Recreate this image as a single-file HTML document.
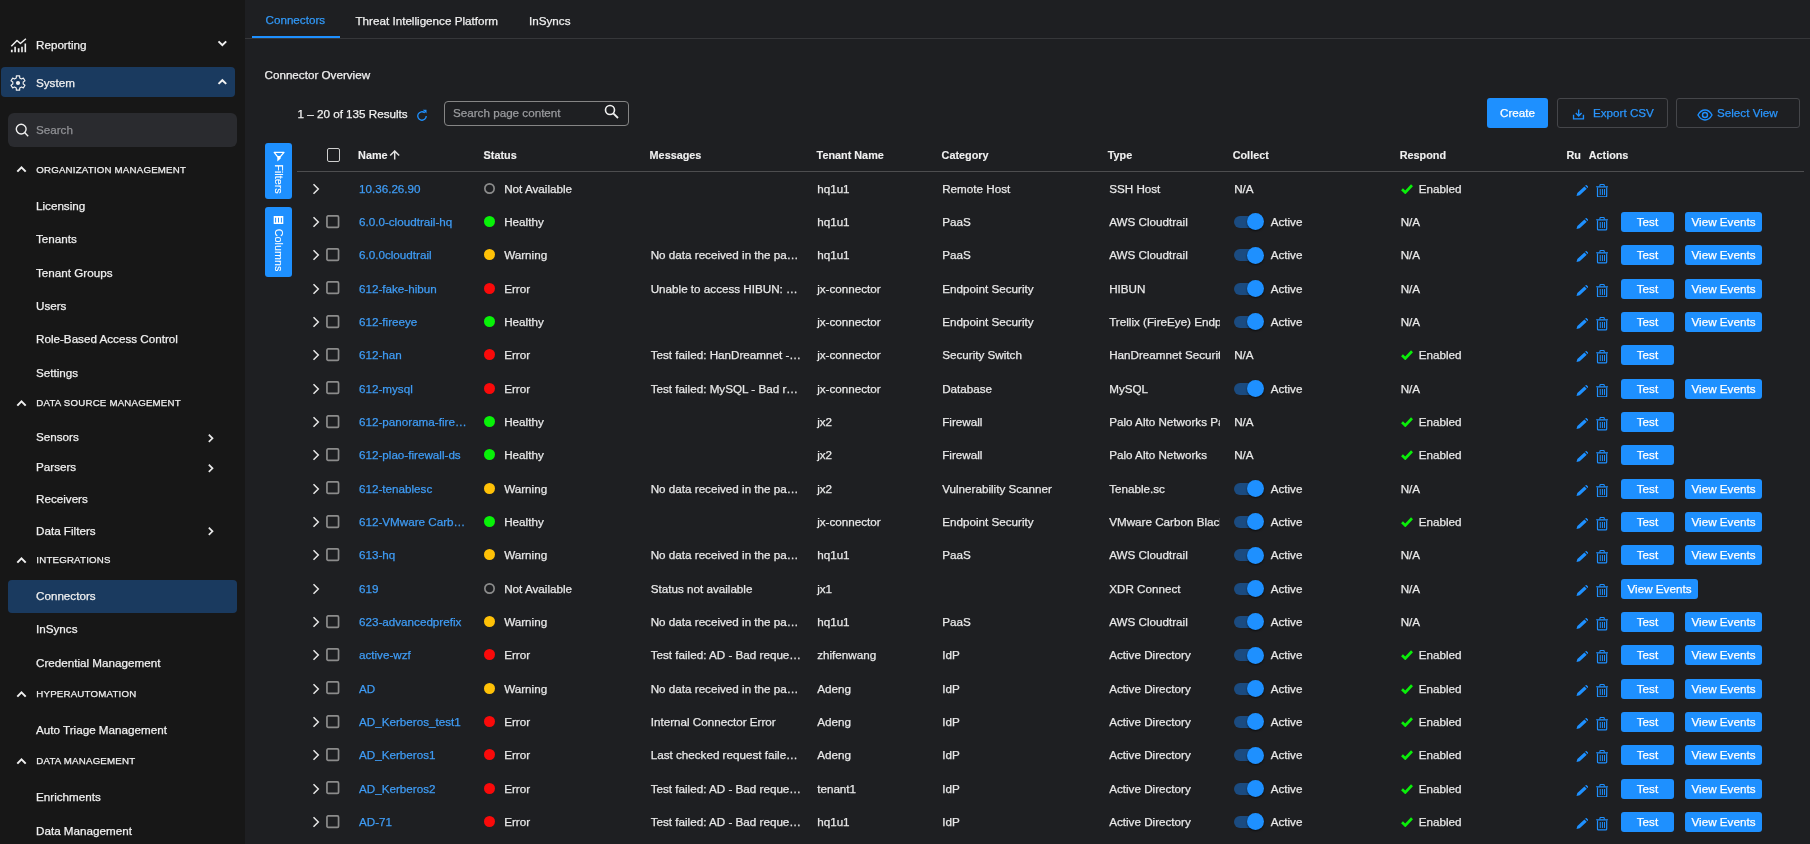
<!DOCTYPE html>
<html>
<head>
<meta charset="utf-8">
<title>Connectors</title>
<style>
*{box-sizing:border-box;margin:0;padding:0}
html,body{width:1810px;height:844px;overflow:hidden;background:#1e1f22;font-family:"Liberation Sans",sans-serif;font-size:11.67px;color:#e8e8e8;-webkit-text-stroke:0.25px}
.abs{position:absolute}
/* ---------- sidebar ---------- */
#side{will-change:transform;position:absolute;left:0;top:0;width:245px;height:844px;background:#171717;overflow:hidden}
.nav{position:absolute;left:36px;font-size:11.67px;line-height:14px;color:#f0f0f0;white-space:nowrap}
.sec{position:absolute;left:36.300px;font-size:9.700px;line-height:12px;color:#f0f0f0;letter-spacing:.2px;white-space:nowrap}
.hl{position:absolute;background:#1a3a5f;border-radius:4px}
.sv{position:absolute}
#sbox{position:absolute;left:8px;top:113px;width:229px;height:34px;border-radius:6px;background:#2a2b2f}
/* ---------- main ---------- */
#main{will-change:transform;position:absolute;left:245px;top:0;width:1565px;height:844px;background:#1e1f22}
.tab{position:absolute;top:13.500px;font-size:11.67px;line-height:14px;color:#f0f0f0;white-space:nowrap}
#tabline{position:absolute;left:0;top:38px;width:1565px;height:1px;background:#36373a}
#tabul{position:absolute;left:7px;top:36px;width:88px;height:2px;background:#1e90ff}
.vbtn{position:absolute;left:20px;width:27px;background:#1e90ff;border-radius:3px}
.vbtn span{-webkit-text-stroke:0.1px;position:absolute;left:50%;top:50%;color:#fff;font-size:10.83px;line-height:14px;white-space:nowrap;transform:translate(-50%,-50%) rotate(90deg)}
.hd{margin-left:.1px;-webkit-text-stroke:0.12px;position:absolute;top:148px;font-size:10.83px;line-height:14px;font-weight:bold;color:#f0f0f0;white-space:nowrap}
#hline{position:absolute;left:52px;top:171px;width:1507px;height:1px;background:#4d4d4f}
.tb{position:absolute;top:98px;height:30px;border-radius:3px;font-size:11.67px;line-height:28px;white-space:nowrap}
/* ---------- rows ---------- */
.row{position:absolute;left:0;width:1565px;height:33.33px}
.row .c{margin-left:.2px;position:absolute;top:10px;font-size:11.67px;line-height:14px;white-space:nowrap;color:#e8e8e8}
.chev{position:absolute;left:67px;top:11px;width:8px;height:12px}
.cb{position:absolute;left:81px;top:9.600px;width:15px;height:15px}
.name{left:113.800px;color:#3f9cf5 !important}
.dot{position:absolute;left:239px;top:11px;width:11px;height:11px;border-radius:50%}
.dot.ok{background:#08f208}.dot.warn{background:#ffc107}.dot.err{background:#fa0a0a}
.dot.na{background:none}
.st{left:259px}
.msg{left:405.500px}
.ten{left:572px}
.cat{left:697px}
.typ{left:864px;width:111px;overflow:hidden}
.col{left:989px}
.rsp{left:1155.500px}
.en{left:1173.500px}
.act{left:1025.500px}
.chk{position:absolute;left:1156px;top:12px;width:12px;height:10px}
.tg{position:absolute;left:989px;top:11px;width:28px;height:12px;border-radius:6px;background:#1b4b80}
.tg i{position:absolute;left:13px;top:-2.500px;width:17px;height:17px;border-radius:50%;background:#1e90ff;box-shadow:0 1px 2px rgba(0,0,0,.6)}
.ic{position:absolute}
.pen{left:1330.900px;top:13.100px;width:12.300px;height:11.500px}
.tr{left:1351.100px;top:12.200px;width:12.200px;height:13.500px}
.btn{position:absolute;top:7px;height:20px;border-radius:3px;background:#1e90ff;color:#fff;font-size:11.67px;line-height:20px;text-align:center;white-space:nowrap}
.b1{left:1376px;width:53px}
.b2{left:1440px;width:77px}
.b3{left:1376px;width:77px}
</style>
</head>
<body>
<div id="side">
  <!-- Reporting -->
  <svg class="sv" style="left:0;top:30px;width:36px;height:30px" viewBox="0 30 36 30"><path d="M11.300 46.300L17 40.500 20.400 43.500 25.900 38.700" fill="none" stroke="#f0f0f0" stroke-width="1.500" stroke-linejoin="round"/><path d="M10.900 49.800h1.800v2.400h-1.800zM14.300 46.800h1.600v5.400h-1.600zM17.800 48.300h1.700v3.900h-1.700zM21.200 46.800h1.600v5.400h-1.600zM24.500 43.400h1.600v8.800h-1.600z" fill="#f0f0f0"/></svg>
  <div class="nav" style="top:37.6px">Reporting</div>
  <svg class="sv" style="left:216px;top:39px;width:12px;height:9px" viewBox="0 0 12 9"><path d="M2.500 2.400L6.350 6.200 10.200 2.400" fill="none" stroke="#f0f0f0" stroke-width="2"/></svg>
  <!-- System -->
  <div class="hl" style="left:1px;top:67px;width:234px;height:30px"></div>
  <svg class="sv" style="left:8.100px;top:72.900px;width:20px;height:20px" viewBox="-10 -10 20 20"><path d="M1.730 -5.010 L1.640 -7.110 L-1.640 -7.110 L-1.730 -5.010 L-3.480 -4.000 L-5.340 -4.980 L-6.980 -2.130 L-5.200 -1.010 L-5.200 1.010 L-6.980 2.130 L-5.340 4.980 L-3.480 4.000 L-1.730 5.010 L-1.640 7.110 L1.640 7.110 L1.730 5.010 L3.480 4.000 L5.340 4.980 L6.980 2.130 L5.200 1.010 L5.200 -1.010 L6.980 -2.130 L5.340 -4.980 L3.480 -4.000Z" fill="none" stroke="#f0f0f0" stroke-width="1.150" stroke-linejoin="round"/><circle cx="0" cy="0" r="2.100" fill="#f0f0f0"/></svg>
  <div class="nav" style="top:75.6px">System</div>
  <svg class="sv" style="left:216px;top:77px;width:12px;height:9px" viewBox="0 0 12 9"><path d="M2.500 6.900L6.350 3.200 10.200 6.900" fill="none" stroke="#f0f0f0" stroke-width="2"/></svg>
  <!-- search -->
  <div id="sbox"></div>
  <svg class="sv" style="left:15px;top:122.500px;width:14px;height:14px" viewBox="0 0 14 14"><circle cx="6.200" cy="6.100" r="4.900" fill="none" stroke="#f0f0f0" stroke-width="1.400"/><path d="M9.600 9.600L13.200 13.200" stroke="#f0f0f0" stroke-width="1.400"/></svg>
  <div class="nav" style="top:122.800px;color:#8f9094">Search</div>

  <!-- sections -->
  <svg class="sv" style="left:16px;top:165px;width:11px;height:8px" viewBox="0 0 11 8"><path d="M1.300 6.600L5.500 2.400 9.700 6.600" fill="none" stroke="#f0f0f0" stroke-width="2"/></svg>
  <div class="sec" style="top:163.500px">ORGANIZATION MANAGEMENT</div>
  <div class="nav" style="top:198px;transform:translateY(.6px)">Licensing</div>
  <div class="nav" style="top:231px;transform:translateY(.6px)">Tenants</div>
  <div class="nav" style="top:265px;transform:translateY(.6px)">Tenant Groups</div>
  <div class="nav" style="top:298px;transform:translateY(.6px)">Users</div>
  <div class="nav" style="top:331px;transform:translateY(.6px)">Role-Based Access Control</div>
  <div class="nav" style="top:365px;transform:translateY(.6px)">Settings</div>

  <svg class="sv" style="left:16px;top:399px;width:11px;height:8px" viewBox="0 0 11 8"><path d="M1.300 6.600L5.500 2.400 9.700 6.600" fill="none" stroke="#f0f0f0" stroke-width="2"/></svg>
  <div class="sec" style="top:397px">DATA SOURCE MANAGEMENT</div>
  <div class="nav" style="top:430px">Sensors</div>
  <svg class="sv" style="left:207px;top:432.500px;width:7px;height:11px" viewBox="0 0 7 11"><path d="M1.800 1.700L5.500 5.300 1.800 8.900" fill="none" stroke="#e8e8e8" stroke-width="1.700"/></svg>
  <div class="nav" style="top:460px">Parsers</div>
  <svg class="sv" style="left:207px;top:462.500px;width:7px;height:11px" viewBox="0 0 7 11"><path d="M1.800 1.700L5.500 5.300 1.800 8.900" fill="none" stroke="#e8e8e8" stroke-width="1.700"/></svg>
  <div class="nav" style="top:492px">Receivers</div>
  <div class="nav" style="top:524px">Data Filters</div>
  <svg class="sv" style="left:207px;top:525.500px;width:7px;height:11px" viewBox="0 0 7 11"><path d="M1.800 1.700L5.500 5.300 1.800 8.900" fill="none" stroke="#e8e8e8" stroke-width="1.700"/></svg>

  <svg class="sv" style="left:16px;top:556px;width:11px;height:8px" viewBox="0 0 11 8"><path d="M1.300 6.600L5.500 2.400 9.700 6.600" fill="none" stroke="#f0f0f0" stroke-width="2"/></svg>
  <div class="sec" style="top:554px">INTEGRATIONS</div>
  <div class="hl" style="left:8px;top:580px;width:229px;height:33px"></div>
  <div class="nav" style="top:589px">Connectors</div>
  <div class="nav" style="top:622px">InSyncs</div>
  <div class="nav" style="top:656px">Credential Management</div>

  <svg class="sv" style="left:16px;top:690px;width:11px;height:8px" viewBox="0 0 11 8"><path d="M1.300 6.600L5.500 2.400 9.700 6.600" fill="none" stroke="#f0f0f0" stroke-width="2"/></svg>
  <div class="sec" style="top:688px">HYPERAUTOMATION</div>
  <div class="nav" style="top:723px">Auto Triage Management</div>

  <svg class="sv" style="left:16px;top:757px;width:11px;height:8px" viewBox="0 0 11 8"><path d="M1.300 6.600L5.500 2.400 9.700 6.600" fill="none" stroke="#f0f0f0" stroke-width="2"/></svg>
  <div class="sec" style="top:755px">DATA MANAGEMENT</div>
  <div class="nav" style="top:790px">Enrichments</div>
  <div class="nav" style="top:824px">Data Management</div>
</div>

<div id="main">
  <!-- tabs -->
  <div class="tab" style="left:20.500px;color:#3198f7;top:12.500px">Connectors</div>
  <div class="tab" style="left:110.500px">Threat Intelligence Platform</div>
  <div class="tab" style="left:284px">InSyncs</div>
  <div id="tabline"></div>
  <div id="tabul"></div>

  <div class="abs" style="left:19.500px;top:67.500px;font-size:11.67px;line-height:14px;color:#f0f0f0">Connector Overview</div>

  <div class="abs" style="left:52.500px;top:107px;font-size:11.67px;line-height:14px;color:#f0f0f0;white-space:nowrap">1 – 20 of 135 Results</div>
  <svg class="abs" style="left:171px;top:109px;width:12px;height:13px" viewBox="0 0 24 26"><path d="M20.500 14a8.500 8.500 0 1 1-3-6.500" fill="none" stroke="#1e90ff" stroke-width="2.600"/><path d="M13.500 1.500l7.500 0 0 7.500z" fill="#1e90ff"/></svg>
  <!-- search -->
  <div class="abs" style="left:199px;top:101px;width:185px;height:25px;border:1px solid #858585;border-radius:4px"></div>
  <div class="abs" style="left:208px;top:106px;font-size:11.67px;line-height:14px;color:#9a9b9e">Search page content</div>
  <svg class="abs" style="left:359px;top:104px;width:15px;height:15px" viewBox="0 0 15 15"><circle cx="6" cy="6" r="4.500" fill="none" stroke="#f0f0f0" stroke-width="1.600"/><path d="M9.300 9.300L14 14" stroke="#f0f0f0" stroke-width="1.800"/></svg>

  <!-- buttons -->
  <div class="tb" style="left:1242px;width:61px;background:#1e90ff;color:#fff;text-align:center;line-height:30px">Create</div>
  <div class="tb" style="left:1312px;width:111px;border:1px solid #45464a;color:#2a95fc"><span style="position:absolute;left:35px;top:0">Export CSV</span></div>
  <svg class="abs" style="left:1327px;top:107px;width:13px;height:13px" viewBox="0 0 13 13"><path d="M6.700 2.500v6.300M3.800 6.100l2.900 2.900 2.900-2.900" fill="none" stroke="#1e90ff" stroke-width="1.350"/><path d="M1.550 7.800v4h9.900v-4" fill="none" stroke="#1e90ff" stroke-width="1.350"/></svg>
  <div class="tb" style="left:1431px;width:124px;border:1px solid #45464a;color:#2a95fc"><span style="position:absolute;left:40px;top:0">Select View</span></div>
  <svg class="abs" style="left:1452.400px;top:108.600px;width:16px;height:12px" viewBox="0 0 16 12"><path d="M1 6c1.800-3.300 4.200-5 7-5s5.200 1.700 7 5c-1.800 3.300-4.200 5-7 5S2.800 9.300 1 6z" fill="none" stroke="#1e90ff" stroke-width="1.400"/><circle cx="8" cy="6" r="2.500" fill="none" stroke="#1e90ff" stroke-width="1.400"/></svg>

  <!-- side vertical buttons -->
  <div class="vbtn" style="top:143px;height:56px"><span style="margin-top:8px">Filters</span>
    <svg class="abs" style="left:0;top:0;width:27px;height:24px" viewBox="0 0 27 24"><path d="M9.200 9.400H19L15.400 13.600 12.500 13.600Z" fill="none" stroke="#fff" stroke-width="1.300" stroke-linejoin="round"/><path d="M12.300 13.200H15.700V15.600L12.300 18.600Z" fill="#fff"/></svg>
  </div>
  <div class="vbtn" style="top:207px;height:70px"><span style="margin-top:8px">Columns</span>
    <svg class="abs" style="left:0;top:0;width:27px;height:24px" viewBox="0 0 27 24"><path d="M8.700 9h9.600v8H8.700z" fill="#fff"/><path d="M10.100 10.700h1v4.700h-1zM13 10.700h1v4.700h-1zM15.900 10.700h1v4.700h-1z" fill="#1e90ff"/></svg>
  </div>

  <!-- header -->
  <div class="abs" style="left:82px;top:148px;width:13.400px;height:14px;border:1px solid #cfcfcf;border-radius:2px"></div>
  <div class="hd" style="left:113px">Name</div>
  <svg class="abs" style="left:144px;top:150px;width:11px;height:10px" viewBox="0 0 11 10"><path d="M5.700 9.600V1.300M1.200 5.500l4.500-4.500 4.500 4.500" fill="none" stroke="#e2e2e2" stroke-width="1.450"/></svg>
  <div class="hd" style="left:238.5px">Status</div>
  <div class="hd" style="left:404.5px">Messages</div>
  <div class="hd" style="left:571.5px">Tenant Name</div>
  <div class="hd" style="left:696.5px">Category</div>
  <div class="hd" style="left:862.6px">Type</div>
  <div class="hd" style="left:987.6px">Collect</div>
  <div class="hd" style="left:1154.6px">Respond</div>
  <div class="hd" style="left:1321.4px">Ru</div>
  <div class="hd" style="left:1343.6px">Actions</div>
  <div id="hline"></div>

<div class="row" style="top:171.60px"><svg class="chev" viewBox="0 0 8 12"><path d="M1.500 1.200L6.300 6L1.500 10.800" fill="none" stroke="#e6e6e6" stroke-width="1.500"/></svg><span class="c name">10.36.26.90</span><svg class="dot na" viewBox="0 0 11 11" style="overflow:visible"><circle cx="5.500" cy="5.500" r="4.650" fill="none" stroke="#8c8c8c" stroke-width="1.700"/></svg><span class="c st">Not Available</span><span class="c ten">hq1u1</span><span class="c cat">Remote Host</span><span class="c typ">SSH Host</span><span class="c col">N/A</span><svg class="chk" viewBox="0 0 12 10"><path d="M1 5.200L4.300 8.400L11 1.300" fill="none" stroke="#0aee0a" stroke-width="2.700"/></svg><span class="c en">Enabled</span><svg class="ic pen" viewBox="0 0 24 24" preserveAspectRatio="none"><path d="M1 23l1.6-6.2L16.4 3l4.6 4.6L7.2 21.4z M17.8 1.6l1-1a1.6 1.6 0 0 1 2.2 0l2.4 2.4a1.6 1.6 0 0 1 0 2.2l-1 1z" fill="#1e90ff"/></svg><svg class="ic tr" viewBox="0 0 12.200 13.500"><path d="M3.900 2.400V1.400Q3.900 .55 4.750 .55H7.450Q8.300 .55 8.300 1.400V2.400" fill="none" stroke="#1e90ff" stroke-width="1.100"/><path d="M0 2.150H12.200L11.600 3.550H.6z" fill="#1e90ff"/><path d="M1.500 3.400V11.900Q1.500 12.900 2.500 12.900H9.700Q10.700 12.900 10.700 11.900V3.400" fill="none" stroke="#1e90ff" stroke-width="1.200"/><path d="M3.750 5h.95v6h-.95zM5.950 5h.95v6h-.95zM8.050 5h.95v6h-.95z" fill="#1e90ff"/></svg></div>
<div class="row" style="top:204.93px"><svg class="chev" viewBox="0 0 8 12"><path d="M1.500 1.200L6.300 6L1.500 10.800" fill="none" stroke="#e6e6e6" stroke-width="1.500"/></svg><svg class="cb" viewBox="0 0 15 15"><rect x="0.950" y="0.950" width="11.600" height="11.400" rx="1.200" fill="none" stroke="#8c8c8c" stroke-width="1.700"/></svg><span class="c name">6.0.0-cloudtrail-hq</span><span class="dot ok"></span><span class="c st">Healthy</span><span class="c ten">hq1u1</span><span class="c cat">PaaS</span><span class="c typ">AWS Cloudtrail</span><span class="tg"><i></i></span><span class="c act">Active</span><span class="c rsp">N/A</span><svg class="ic pen" viewBox="0 0 24 24" preserveAspectRatio="none"><path d="M1 23l1.6-6.2L16.4 3l4.6 4.6L7.2 21.4z M17.8 1.6l1-1a1.6 1.6 0 0 1 2.2 0l2.4 2.4a1.6 1.6 0 0 1 0 2.2l-1 1z" fill="#1e90ff"/></svg><svg class="ic tr" viewBox="0 0 12.200 13.500"><path d="M3.900 2.400V1.400Q3.900 .55 4.750 .55H7.450Q8.300 .55 8.300 1.400V2.400" fill="none" stroke="#1e90ff" stroke-width="1.100"/><path d="M0 2.150H12.200L11.600 3.550H.6z" fill="#1e90ff"/><path d="M1.500 3.400V11.900Q1.500 12.900 2.500 12.900H9.700Q10.700 12.900 10.700 11.900V3.400" fill="none" stroke="#1e90ff" stroke-width="1.200"/><path d="M3.750 5h.95v6h-.95zM5.950 5h.95v6h-.95zM8.050 5h.95v6h-.95z" fill="#1e90ff"/></svg><span class="btn b1">Test</span><span class="btn b2">View Events</span></div>
<div class="row" style="top:238.27px"><svg class="chev" viewBox="0 0 8 12"><path d="M1.500 1.200L6.300 6L1.500 10.800" fill="none" stroke="#e6e6e6" stroke-width="1.500"/></svg><svg class="cb" viewBox="0 0 15 15"><rect x="0.950" y="0.950" width="11.600" height="11.400" rx="1.200" fill="none" stroke="#8c8c8c" stroke-width="1.700"/></svg><span class="c name">6.0.0cloudtrail</span><span class="dot warn"></span><span class="c st">Warning</span><span class="c msg">No data received in the pa…</span><span class="c ten">hq1u1</span><span class="c cat">PaaS</span><span class="c typ">AWS Cloudtrail</span><span class="tg"><i></i></span><span class="c act">Active</span><span class="c rsp">N/A</span><svg class="ic pen" viewBox="0 0 24 24" preserveAspectRatio="none"><path d="M1 23l1.6-6.2L16.4 3l4.6 4.6L7.2 21.4z M17.8 1.6l1-1a1.6 1.6 0 0 1 2.2 0l2.4 2.4a1.6 1.6 0 0 1 0 2.2l-1 1z" fill="#1e90ff"/></svg><svg class="ic tr" viewBox="0 0 12.200 13.500"><path d="M3.900 2.400V1.400Q3.900 .55 4.750 .55H7.450Q8.300 .55 8.300 1.400V2.400" fill="none" stroke="#1e90ff" stroke-width="1.100"/><path d="M0 2.150H12.200L11.600 3.550H.6z" fill="#1e90ff"/><path d="M1.500 3.400V11.900Q1.500 12.900 2.500 12.900H9.700Q10.700 12.900 10.700 11.900V3.400" fill="none" stroke="#1e90ff" stroke-width="1.200"/><path d="M3.750 5h.95v6h-.95zM5.950 5h.95v6h-.95zM8.050 5h.95v6h-.95z" fill="#1e90ff"/></svg><span class="btn b1">Test</span><span class="btn b2">View Events</span></div>
<div class="row" style="top:271.60px"><svg class="chev" viewBox="0 0 8 12"><path d="M1.500 1.200L6.300 6L1.500 10.800" fill="none" stroke="#e6e6e6" stroke-width="1.500"/></svg><svg class="cb" viewBox="0 0 15 15"><rect x="0.950" y="0.950" width="11.600" height="11.400" rx="1.200" fill="none" stroke="#8c8c8c" stroke-width="1.700"/></svg><span class="c name">612-fake-hibun</span><span class="dot err"></span><span class="c st">Error</span><span class="c msg">Unable to access HIBUN: …</span><span class="c ten">jx-connector</span><span class="c cat">Endpoint Security</span><span class="c typ">HIBUN</span><span class="tg"><i></i></span><span class="c act">Active</span><span class="c rsp">N/A</span><svg class="ic pen" viewBox="0 0 24 24" preserveAspectRatio="none"><path d="M1 23l1.6-6.2L16.4 3l4.6 4.6L7.2 21.4z M17.8 1.6l1-1a1.6 1.6 0 0 1 2.2 0l2.4 2.4a1.6 1.6 0 0 1 0 2.2l-1 1z" fill="#1e90ff"/></svg><svg class="ic tr" viewBox="0 0 12.200 13.500"><path d="M3.900 2.400V1.400Q3.900 .55 4.750 .55H7.450Q8.300 .55 8.300 1.400V2.400" fill="none" stroke="#1e90ff" stroke-width="1.100"/><path d="M0 2.150H12.200L11.600 3.550H.6z" fill="#1e90ff"/><path d="M1.500 3.400V11.900Q1.500 12.900 2.500 12.900H9.700Q10.700 12.900 10.700 11.900V3.400" fill="none" stroke="#1e90ff" stroke-width="1.200"/><path d="M3.750 5h.95v6h-.95zM5.950 5h.95v6h-.95zM8.050 5h.95v6h-.95z" fill="#1e90ff"/></svg><span class="btn b1">Test</span><span class="btn b2">View Events</span></div>
<div class="row" style="top:304.93px"><svg class="chev" viewBox="0 0 8 12"><path d="M1.500 1.200L6.300 6L1.500 10.800" fill="none" stroke="#e6e6e6" stroke-width="1.500"/></svg><svg class="cb" viewBox="0 0 15 15"><rect x="0.950" y="0.950" width="11.600" height="11.400" rx="1.200" fill="none" stroke="#8c8c8c" stroke-width="1.700"/></svg><span class="c name">612-fireeye</span><span class="dot ok"></span><span class="c st">Healthy</span><span class="c ten">jx-connector</span><span class="c cat">Endpoint Security</span><span class="c typ">Trellix (FireEye) Endpoint</span><span class="tg"><i></i></span><span class="c act">Active</span><span class="c rsp">N/A</span><svg class="ic pen" viewBox="0 0 24 24" preserveAspectRatio="none"><path d="M1 23l1.6-6.2L16.4 3l4.6 4.6L7.2 21.4z M17.8 1.6l1-1a1.6 1.6 0 0 1 2.2 0l2.4 2.4a1.6 1.6 0 0 1 0 2.2l-1 1z" fill="#1e90ff"/></svg><svg class="ic tr" viewBox="0 0 12.200 13.500"><path d="M3.900 2.400V1.400Q3.900 .55 4.750 .55H7.450Q8.300 .55 8.300 1.400V2.400" fill="none" stroke="#1e90ff" stroke-width="1.100"/><path d="M0 2.150H12.200L11.600 3.550H.6z" fill="#1e90ff"/><path d="M1.500 3.400V11.900Q1.500 12.900 2.500 12.900H9.700Q10.700 12.900 10.700 11.900V3.400" fill="none" stroke="#1e90ff" stroke-width="1.200"/><path d="M3.750 5h.95v6h-.95zM5.950 5h.95v6h-.95zM8.050 5h.95v6h-.95z" fill="#1e90ff"/></svg><span class="btn b1">Test</span><span class="btn b2">View Events</span></div>
<div class="row" style="top:338.27px"><svg class="chev" viewBox="0 0 8 12"><path d="M1.500 1.200L6.300 6L1.500 10.800" fill="none" stroke="#e6e6e6" stroke-width="1.500"/></svg><svg class="cb" viewBox="0 0 15 15"><rect x="0.950" y="0.950" width="11.600" height="11.400" rx="1.200" fill="none" stroke="#8c8c8c" stroke-width="1.700"/></svg><span class="c name">612-han</span><span class="dot err"></span><span class="c st">Error</span><span class="c msg">Test failed: HanDreamnet -…</span><span class="c ten">jx-connector</span><span class="c cat">Security Switch</span><span class="c typ">HanDreamnet Security Switch</span><span class="c col">N/A</span><svg class="chk" viewBox="0 0 12 10"><path d="M1 5.200L4.300 8.400L11 1.300" fill="none" stroke="#0aee0a" stroke-width="2.700"/></svg><span class="c en">Enabled</span><svg class="ic pen" viewBox="0 0 24 24" preserveAspectRatio="none"><path d="M1 23l1.6-6.2L16.4 3l4.6 4.6L7.2 21.4z M17.8 1.6l1-1a1.6 1.6 0 0 1 2.2 0l2.4 2.4a1.6 1.6 0 0 1 0 2.2l-1 1z" fill="#1e90ff"/></svg><svg class="ic tr" viewBox="0 0 12.200 13.500"><path d="M3.900 2.400V1.400Q3.900 .55 4.750 .55H7.450Q8.300 .55 8.300 1.400V2.400" fill="none" stroke="#1e90ff" stroke-width="1.100"/><path d="M0 2.150H12.200L11.600 3.550H.6z" fill="#1e90ff"/><path d="M1.500 3.400V11.900Q1.500 12.900 2.500 12.900H9.700Q10.700 12.900 10.700 11.900V3.400" fill="none" stroke="#1e90ff" stroke-width="1.200"/><path d="M3.750 5h.95v6h-.95zM5.950 5h.95v6h-.95zM8.050 5h.95v6h-.95z" fill="#1e90ff"/></svg><span class="btn b1">Test</span></div>
<div class="row" style="top:371.60px"><svg class="chev" viewBox="0 0 8 12"><path d="M1.500 1.200L6.300 6L1.500 10.800" fill="none" stroke="#e6e6e6" stroke-width="1.500"/></svg><svg class="cb" viewBox="0 0 15 15"><rect x="0.950" y="0.950" width="11.600" height="11.400" rx="1.200" fill="none" stroke="#8c8c8c" stroke-width="1.700"/></svg><span class="c name">612-mysql</span><span class="dot err"></span><span class="c st">Error</span><span class="c msg">Test failed: MySQL - Bad r…</span><span class="c ten">jx-connector</span><span class="c cat">Database</span><span class="c typ">MySQL</span><span class="tg"><i></i></span><span class="c act">Active</span><span class="c rsp">N/A</span><svg class="ic pen" viewBox="0 0 24 24" preserveAspectRatio="none"><path d="M1 23l1.6-6.2L16.4 3l4.6 4.6L7.2 21.4z M17.8 1.6l1-1a1.6 1.6 0 0 1 2.2 0l2.4 2.4a1.6 1.6 0 0 1 0 2.2l-1 1z" fill="#1e90ff"/></svg><svg class="ic tr" viewBox="0 0 12.200 13.500"><path d="M3.900 2.400V1.400Q3.900 .55 4.750 .55H7.450Q8.300 .55 8.300 1.400V2.400" fill="none" stroke="#1e90ff" stroke-width="1.100"/><path d="M0 2.150H12.200L11.600 3.550H.6z" fill="#1e90ff"/><path d="M1.500 3.400V11.900Q1.500 12.900 2.500 12.900H9.700Q10.700 12.900 10.700 11.900V3.400" fill="none" stroke="#1e90ff" stroke-width="1.200"/><path d="M3.750 5h.95v6h-.95zM5.950 5h.95v6h-.95zM8.050 5h.95v6h-.95z" fill="#1e90ff"/></svg><span class="btn b1">Test</span><span class="btn b2">View Events</span></div>
<div class="row" style="top:404.93px"><svg class="chev" viewBox="0 0 8 12"><path d="M1.500 1.200L6.300 6L1.500 10.800" fill="none" stroke="#e6e6e6" stroke-width="1.500"/></svg><svg class="cb" viewBox="0 0 15 15"><rect x="0.950" y="0.950" width="11.600" height="11.400" rx="1.200" fill="none" stroke="#8c8c8c" stroke-width="1.700"/></svg><span class="c name">612-panorama-fire…</span><span class="dot ok"></span><span class="c st">Healthy</span><span class="c ten">jx2</span><span class="c cat">Firewall</span><span class="c typ">Palo Alto Networks Panorama</span><span class="c col">N/A</span><svg class="chk" viewBox="0 0 12 10"><path d="M1 5.200L4.300 8.400L11 1.300" fill="none" stroke="#0aee0a" stroke-width="2.700"/></svg><span class="c en">Enabled</span><svg class="ic pen" viewBox="0 0 24 24" preserveAspectRatio="none"><path d="M1 23l1.6-6.2L16.4 3l4.6 4.6L7.2 21.4z M17.8 1.6l1-1a1.6 1.6 0 0 1 2.2 0l2.4 2.4a1.6 1.6 0 0 1 0 2.2l-1 1z" fill="#1e90ff"/></svg><svg class="ic tr" viewBox="0 0 12.200 13.500"><path d="M3.900 2.400V1.400Q3.900 .55 4.750 .55H7.450Q8.300 .55 8.300 1.400V2.400" fill="none" stroke="#1e90ff" stroke-width="1.100"/><path d="M0 2.150H12.200L11.600 3.550H.6z" fill="#1e90ff"/><path d="M1.500 3.400V11.900Q1.500 12.900 2.500 12.900H9.700Q10.700 12.900 10.700 11.900V3.400" fill="none" stroke="#1e90ff" stroke-width="1.200"/><path d="M3.750 5h.95v6h-.95zM5.950 5h.95v6h-.95zM8.050 5h.95v6h-.95z" fill="#1e90ff"/></svg><span class="btn b1">Test</span></div>
<div class="row" style="top:438.27px"><svg class="chev" viewBox="0 0 8 12"><path d="M1.500 1.200L6.300 6L1.500 10.800" fill="none" stroke="#e6e6e6" stroke-width="1.500"/></svg><svg class="cb" viewBox="0 0 15 15"><rect x="0.950" y="0.950" width="11.600" height="11.400" rx="1.200" fill="none" stroke="#8c8c8c" stroke-width="1.700"/></svg><span class="c name">612-plao-firewall-ds</span><span class="dot ok"></span><span class="c st">Healthy</span><span class="c ten">jx2</span><span class="c cat">Firewall</span><span class="c typ">Palo Alto Networks</span><span class="c col">N/A</span><svg class="chk" viewBox="0 0 12 10"><path d="M1 5.200L4.300 8.400L11 1.300" fill="none" stroke="#0aee0a" stroke-width="2.700"/></svg><span class="c en">Enabled</span><svg class="ic pen" viewBox="0 0 24 24" preserveAspectRatio="none"><path d="M1 23l1.6-6.2L16.4 3l4.6 4.6L7.2 21.4z M17.8 1.6l1-1a1.6 1.6 0 0 1 2.2 0l2.4 2.4a1.6 1.6 0 0 1 0 2.2l-1 1z" fill="#1e90ff"/></svg><svg class="ic tr" viewBox="0 0 12.200 13.500"><path d="M3.900 2.400V1.400Q3.900 .55 4.750 .55H7.450Q8.300 .55 8.300 1.400V2.400" fill="none" stroke="#1e90ff" stroke-width="1.100"/><path d="M0 2.150H12.200L11.600 3.550H.6z" fill="#1e90ff"/><path d="M1.500 3.400V11.900Q1.500 12.900 2.500 12.900H9.700Q10.700 12.900 10.700 11.900V3.400" fill="none" stroke="#1e90ff" stroke-width="1.200"/><path d="M3.750 5h.95v6h-.95zM5.950 5h.95v6h-.95zM8.050 5h.95v6h-.95z" fill="#1e90ff"/></svg><span class="btn b1">Test</span></div>
<div class="row" style="top:471.60px"><svg class="chev" viewBox="0 0 8 12"><path d="M1.500 1.200L6.300 6L1.500 10.800" fill="none" stroke="#e6e6e6" stroke-width="1.500"/></svg><svg class="cb" viewBox="0 0 15 15"><rect x="0.950" y="0.950" width="11.600" height="11.400" rx="1.200" fill="none" stroke="#8c8c8c" stroke-width="1.700"/></svg><span class="c name">612-tenablesc</span><span class="dot warn"></span><span class="c st">Warning</span><span class="c msg">No data received in the pa…</span><span class="c ten">jx2</span><span class="c cat">Vulnerability Scanner</span><span class="c typ">Tenable.sc</span><span class="tg"><i></i></span><span class="c act">Active</span><span class="c rsp">N/A</span><svg class="ic pen" viewBox="0 0 24 24" preserveAspectRatio="none"><path d="M1 23l1.6-6.2L16.4 3l4.6 4.6L7.2 21.4z M17.8 1.6l1-1a1.6 1.6 0 0 1 2.2 0l2.4 2.4a1.6 1.6 0 0 1 0 2.2l-1 1z" fill="#1e90ff"/></svg><svg class="ic tr" viewBox="0 0 12.200 13.500"><path d="M3.900 2.400V1.400Q3.900 .55 4.750 .55H7.450Q8.300 .55 8.300 1.400V2.400" fill="none" stroke="#1e90ff" stroke-width="1.100"/><path d="M0 2.150H12.200L11.600 3.550H.6z" fill="#1e90ff"/><path d="M1.500 3.400V11.900Q1.500 12.900 2.500 12.900H9.700Q10.700 12.900 10.700 11.900V3.400" fill="none" stroke="#1e90ff" stroke-width="1.200"/><path d="M3.750 5h.95v6h-.95zM5.950 5h.95v6h-.95zM8.050 5h.95v6h-.95z" fill="#1e90ff"/></svg><span class="btn b1">Test</span><span class="btn b2">View Events</span></div>
<div class="row" style="top:504.93px"><svg class="chev" viewBox="0 0 8 12"><path d="M1.500 1.200L6.300 6L1.500 10.800" fill="none" stroke="#e6e6e6" stroke-width="1.500"/></svg><svg class="cb" viewBox="0 0 15 15"><rect x="0.950" y="0.950" width="11.600" height="11.400" rx="1.200" fill="none" stroke="#8c8c8c" stroke-width="1.700"/></svg><span class="c name">612-VMware Carb…</span><span class="dot ok"></span><span class="c st">Healthy</span><span class="c ten">jx-connector</span><span class="c cat">Endpoint Security</span><span class="c typ">VMware Carbon Black</span><span class="tg"><i></i></span><span class="c act">Active</span><svg class="chk" viewBox="0 0 12 10"><path d="M1 5.200L4.300 8.400L11 1.300" fill="none" stroke="#0aee0a" stroke-width="2.700"/></svg><span class="c en">Enabled</span><svg class="ic pen" viewBox="0 0 24 24" preserveAspectRatio="none"><path d="M1 23l1.6-6.2L16.4 3l4.6 4.6L7.2 21.4z M17.8 1.6l1-1a1.6 1.6 0 0 1 2.2 0l2.4 2.4a1.6 1.6 0 0 1 0 2.2l-1 1z" fill="#1e90ff"/></svg><svg class="ic tr" viewBox="0 0 12.200 13.500"><path d="M3.900 2.400V1.400Q3.900 .55 4.750 .55H7.450Q8.300 .55 8.300 1.400V2.400" fill="none" stroke="#1e90ff" stroke-width="1.100"/><path d="M0 2.150H12.200L11.600 3.550H.6z" fill="#1e90ff"/><path d="M1.500 3.400V11.900Q1.500 12.900 2.500 12.900H9.700Q10.700 12.900 10.700 11.900V3.400" fill="none" stroke="#1e90ff" stroke-width="1.200"/><path d="M3.750 5h.95v6h-.95zM5.950 5h.95v6h-.95zM8.050 5h.95v6h-.95z" fill="#1e90ff"/></svg><span class="btn b1">Test</span><span class="btn b2">View Events</span></div>
<div class="row" style="top:538.27px"><svg class="chev" viewBox="0 0 8 12"><path d="M1.500 1.200L6.300 6L1.500 10.800" fill="none" stroke="#e6e6e6" stroke-width="1.500"/></svg><svg class="cb" viewBox="0 0 15 15"><rect x="0.950" y="0.950" width="11.600" height="11.400" rx="1.200" fill="none" stroke="#8c8c8c" stroke-width="1.700"/></svg><span class="c name">613-hq</span><span class="dot warn"></span><span class="c st">Warning</span><span class="c msg">No data received in the pa…</span><span class="c ten">hq1u1</span><span class="c cat">PaaS</span><span class="c typ">AWS Cloudtrail</span><span class="tg"><i></i></span><span class="c act">Active</span><span class="c rsp">N/A</span><svg class="ic pen" viewBox="0 0 24 24" preserveAspectRatio="none"><path d="M1 23l1.6-6.2L16.4 3l4.6 4.6L7.2 21.4z M17.8 1.6l1-1a1.6 1.6 0 0 1 2.2 0l2.4 2.4a1.6 1.6 0 0 1 0 2.2l-1 1z" fill="#1e90ff"/></svg><svg class="ic tr" viewBox="0 0 12.200 13.500"><path d="M3.900 2.400V1.400Q3.900 .55 4.750 .55H7.450Q8.300 .55 8.300 1.400V2.400" fill="none" stroke="#1e90ff" stroke-width="1.100"/><path d="M0 2.150H12.200L11.600 3.550H.6z" fill="#1e90ff"/><path d="M1.500 3.400V11.900Q1.500 12.900 2.500 12.900H9.700Q10.700 12.900 10.700 11.900V3.400" fill="none" stroke="#1e90ff" stroke-width="1.200"/><path d="M3.750 5h.95v6h-.95zM5.950 5h.95v6h-.95zM8.050 5h.95v6h-.95z" fill="#1e90ff"/></svg><span class="btn b1">Test</span><span class="btn b2">View Events</span></div>
<div class="row" style="top:571.60px"><svg class="chev" viewBox="0 0 8 12"><path d="M1.500 1.200L6.300 6L1.500 10.800" fill="none" stroke="#e6e6e6" stroke-width="1.500"/></svg><span class="c name">619</span><svg class="dot na" viewBox="0 0 11 11" style="overflow:visible"><circle cx="5.500" cy="5.500" r="4.650" fill="none" stroke="#8c8c8c" stroke-width="1.700"/></svg><span class="c st">Not Available</span><span class="c msg">Status not available</span><span class="c ten">jx1</span><span class="c typ">XDR Connect</span><span class="tg"><i></i></span><span class="c act">Active</span><span class="c rsp">N/A</span><svg class="ic pen" viewBox="0 0 24 24" preserveAspectRatio="none"><path d="M1 23l1.6-6.2L16.4 3l4.6 4.6L7.2 21.4z M17.8 1.6l1-1a1.6 1.6 0 0 1 2.2 0l2.4 2.4a1.6 1.6 0 0 1 0 2.2l-1 1z" fill="#1e90ff"/></svg><svg class="ic tr" viewBox="0 0 12.200 13.500"><path d="M3.900 2.400V1.400Q3.900 .55 4.750 .55H7.450Q8.300 .55 8.300 1.400V2.400" fill="none" stroke="#1e90ff" stroke-width="1.100"/><path d="M0 2.150H12.200L11.600 3.550H.6z" fill="#1e90ff"/><path d="M1.500 3.400V11.900Q1.500 12.900 2.500 12.900H9.700Q10.700 12.900 10.700 11.900V3.400" fill="none" stroke="#1e90ff" stroke-width="1.200"/><path d="M3.750 5h.95v6h-.95zM5.950 5h.95v6h-.95zM8.050 5h.95v6h-.95z" fill="#1e90ff"/></svg><span class="btn b3">View Events</span></div>
<div class="row" style="top:604.93px"><svg class="chev" viewBox="0 0 8 12"><path d="M1.500 1.200L6.300 6L1.500 10.800" fill="none" stroke="#e6e6e6" stroke-width="1.500"/></svg><svg class="cb" viewBox="0 0 15 15"><rect x="0.950" y="0.950" width="11.600" height="11.400" rx="1.200" fill="none" stroke="#8c8c8c" stroke-width="1.700"/></svg><span class="c name">623-advancedprefix</span><span class="dot warn"></span><span class="c st">Warning</span><span class="c msg">No data received in the pa…</span><span class="c ten">hq1u1</span><span class="c cat">PaaS</span><span class="c typ">AWS Cloudtrail</span><span class="tg"><i></i></span><span class="c act">Active</span><span class="c rsp">N/A</span><svg class="ic pen" viewBox="0 0 24 24" preserveAspectRatio="none"><path d="M1 23l1.6-6.2L16.4 3l4.6 4.6L7.2 21.4z M17.8 1.6l1-1a1.6 1.6 0 0 1 2.2 0l2.4 2.4a1.6 1.6 0 0 1 0 2.2l-1 1z" fill="#1e90ff"/></svg><svg class="ic tr" viewBox="0 0 12.200 13.500"><path d="M3.900 2.400V1.400Q3.900 .55 4.750 .55H7.450Q8.300 .55 8.300 1.400V2.400" fill="none" stroke="#1e90ff" stroke-width="1.100"/><path d="M0 2.150H12.200L11.600 3.550H.6z" fill="#1e90ff"/><path d="M1.500 3.400V11.900Q1.500 12.900 2.500 12.900H9.700Q10.700 12.900 10.700 11.900V3.400" fill="none" stroke="#1e90ff" stroke-width="1.200"/><path d="M3.750 5h.95v6h-.95zM5.950 5h.95v6h-.95zM8.050 5h.95v6h-.95z" fill="#1e90ff"/></svg><span class="btn b1">Test</span><span class="btn b2">View Events</span></div>
<div class="row" style="top:638.27px"><svg class="chev" viewBox="0 0 8 12"><path d="M1.500 1.200L6.300 6L1.500 10.800" fill="none" stroke="#e6e6e6" stroke-width="1.500"/></svg><svg class="cb" viewBox="0 0 15 15"><rect x="0.950" y="0.950" width="11.600" height="11.400" rx="1.200" fill="none" stroke="#8c8c8c" stroke-width="1.700"/></svg><span class="c name">active-wzf</span><span class="dot err"></span><span class="c st">Error</span><span class="c msg">Test failed: AD - Bad reque…</span><span class="c ten">zhifenwang</span><span class="c cat">IdP</span><span class="c typ">Active Directory</span><span class="tg"><i></i></span><span class="c act">Active</span><svg class="chk" viewBox="0 0 12 10"><path d="M1 5.200L4.300 8.400L11 1.300" fill="none" stroke="#0aee0a" stroke-width="2.700"/></svg><span class="c en">Enabled</span><svg class="ic pen" viewBox="0 0 24 24" preserveAspectRatio="none"><path d="M1 23l1.6-6.2L16.4 3l4.6 4.6L7.2 21.4z M17.8 1.6l1-1a1.6 1.6 0 0 1 2.2 0l2.4 2.4a1.6 1.6 0 0 1 0 2.2l-1 1z" fill="#1e90ff"/></svg><svg class="ic tr" viewBox="0 0 12.200 13.500"><path d="M3.900 2.400V1.400Q3.900 .55 4.750 .55H7.450Q8.300 .55 8.300 1.400V2.400" fill="none" stroke="#1e90ff" stroke-width="1.100"/><path d="M0 2.150H12.200L11.600 3.550H.6z" fill="#1e90ff"/><path d="M1.500 3.400V11.900Q1.500 12.900 2.500 12.900H9.700Q10.700 12.900 10.700 11.900V3.400" fill="none" stroke="#1e90ff" stroke-width="1.200"/><path d="M3.750 5h.95v6h-.95zM5.950 5h.95v6h-.95zM8.050 5h.95v6h-.95z" fill="#1e90ff"/></svg><span class="btn b1">Test</span><span class="btn b2">View Events</span></div>
<div class="row" style="top:671.60px"><svg class="chev" viewBox="0 0 8 12"><path d="M1.500 1.200L6.300 6L1.500 10.800" fill="none" stroke="#e6e6e6" stroke-width="1.500"/></svg><svg class="cb" viewBox="0 0 15 15"><rect x="0.950" y="0.950" width="11.600" height="11.400" rx="1.200" fill="none" stroke="#8c8c8c" stroke-width="1.700"/></svg><span class="c name">AD</span><span class="dot warn"></span><span class="c st">Warning</span><span class="c msg">No data received in the pa…</span><span class="c ten">Adeng</span><span class="c cat">IdP</span><span class="c typ">Active Directory</span><span class="tg"><i></i></span><span class="c act">Active</span><svg class="chk" viewBox="0 0 12 10"><path d="M1 5.200L4.300 8.400L11 1.300" fill="none" stroke="#0aee0a" stroke-width="2.700"/></svg><span class="c en">Enabled</span><svg class="ic pen" viewBox="0 0 24 24" preserveAspectRatio="none"><path d="M1 23l1.6-6.2L16.4 3l4.6 4.6L7.2 21.4z M17.8 1.6l1-1a1.6 1.6 0 0 1 2.2 0l2.4 2.4a1.6 1.6 0 0 1 0 2.2l-1 1z" fill="#1e90ff"/></svg><svg class="ic tr" viewBox="0 0 12.200 13.500"><path d="M3.900 2.400V1.400Q3.900 .55 4.750 .55H7.450Q8.300 .55 8.300 1.400V2.400" fill="none" stroke="#1e90ff" stroke-width="1.100"/><path d="M0 2.150H12.200L11.600 3.550H.6z" fill="#1e90ff"/><path d="M1.500 3.400V11.900Q1.500 12.900 2.500 12.900H9.700Q10.700 12.900 10.700 11.900V3.400" fill="none" stroke="#1e90ff" stroke-width="1.200"/><path d="M3.750 5h.95v6h-.95zM5.950 5h.95v6h-.95zM8.050 5h.95v6h-.95z" fill="#1e90ff"/></svg><span class="btn b1">Test</span><span class="btn b2">View Events</span></div>
<div class="row" style="top:704.93px"><svg class="chev" viewBox="0 0 8 12"><path d="M1.500 1.200L6.300 6L1.500 10.800" fill="none" stroke="#e6e6e6" stroke-width="1.500"/></svg><svg class="cb" viewBox="0 0 15 15"><rect x="0.950" y="0.950" width="11.600" height="11.400" rx="1.200" fill="none" stroke="#8c8c8c" stroke-width="1.700"/></svg><span class="c name">AD_Kerberos_test1</span><span class="dot err"></span><span class="c st">Error</span><span class="c msg">Internal Connector Error</span><span class="c ten">Adeng</span><span class="c cat">IdP</span><span class="c typ">Active Directory</span><span class="tg"><i></i></span><span class="c act">Active</span><svg class="chk" viewBox="0 0 12 10"><path d="M1 5.200L4.300 8.400L11 1.300" fill="none" stroke="#0aee0a" stroke-width="2.700"/></svg><span class="c en">Enabled</span><svg class="ic pen" viewBox="0 0 24 24" preserveAspectRatio="none"><path d="M1 23l1.6-6.2L16.4 3l4.6 4.6L7.2 21.4z M17.8 1.6l1-1a1.6 1.6 0 0 1 2.2 0l2.4 2.4a1.6 1.6 0 0 1 0 2.2l-1 1z" fill="#1e90ff"/></svg><svg class="ic tr" viewBox="0 0 12.200 13.500"><path d="M3.900 2.400V1.400Q3.900 .55 4.750 .55H7.450Q8.300 .55 8.300 1.400V2.400" fill="none" stroke="#1e90ff" stroke-width="1.100"/><path d="M0 2.150H12.200L11.600 3.550H.6z" fill="#1e90ff"/><path d="M1.500 3.400V11.900Q1.500 12.900 2.500 12.900H9.700Q10.700 12.900 10.700 11.900V3.400" fill="none" stroke="#1e90ff" stroke-width="1.200"/><path d="M3.750 5h.95v6h-.95zM5.950 5h.95v6h-.95zM8.050 5h.95v6h-.95z" fill="#1e90ff"/></svg><span class="btn b1">Test</span><span class="btn b2">View Events</span></div>
<div class="row" style="top:738.27px"><svg class="chev" viewBox="0 0 8 12"><path d="M1.500 1.200L6.300 6L1.500 10.800" fill="none" stroke="#e6e6e6" stroke-width="1.500"/></svg><svg class="cb" viewBox="0 0 15 15"><rect x="0.950" y="0.950" width="11.600" height="11.400" rx="1.200" fill="none" stroke="#8c8c8c" stroke-width="1.700"/></svg><span class="c name">AD_Kerberos1</span><span class="dot err"></span><span class="c st">Error</span><span class="c msg">Last checked request faile…</span><span class="c ten">Adeng</span><span class="c cat">IdP</span><span class="c typ">Active Directory</span><span class="tg"><i></i></span><span class="c act">Active</span><svg class="chk" viewBox="0 0 12 10"><path d="M1 5.200L4.300 8.400L11 1.300" fill="none" stroke="#0aee0a" stroke-width="2.700"/></svg><span class="c en">Enabled</span><svg class="ic pen" viewBox="0 0 24 24" preserveAspectRatio="none"><path d="M1 23l1.6-6.2L16.4 3l4.6 4.6L7.2 21.4z M17.8 1.6l1-1a1.6 1.6 0 0 1 2.2 0l2.4 2.4a1.6 1.6 0 0 1 0 2.2l-1 1z" fill="#1e90ff"/></svg><svg class="ic tr" viewBox="0 0 12.200 13.500"><path d="M3.900 2.400V1.400Q3.900 .55 4.750 .55H7.450Q8.300 .55 8.300 1.400V2.400" fill="none" stroke="#1e90ff" stroke-width="1.100"/><path d="M0 2.150H12.200L11.600 3.550H.6z" fill="#1e90ff"/><path d="M1.500 3.400V11.900Q1.500 12.900 2.500 12.900H9.700Q10.700 12.900 10.700 11.900V3.400" fill="none" stroke="#1e90ff" stroke-width="1.200"/><path d="M3.750 5h.95v6h-.95zM5.950 5h.95v6h-.95zM8.050 5h.95v6h-.95z" fill="#1e90ff"/></svg><span class="btn b1">Test</span><span class="btn b2">View Events</span></div>
<div class="row" style="top:771.60px"><svg class="chev" viewBox="0 0 8 12"><path d="M1.500 1.200L6.300 6L1.500 10.800" fill="none" stroke="#e6e6e6" stroke-width="1.500"/></svg><svg class="cb" viewBox="0 0 15 15"><rect x="0.950" y="0.950" width="11.600" height="11.400" rx="1.200" fill="none" stroke="#8c8c8c" stroke-width="1.700"/></svg><span class="c name">AD_Kerberos2</span><span class="dot err"></span><span class="c st">Error</span><span class="c msg">Test failed: AD - Bad reque…</span><span class="c ten">tenant1</span><span class="c cat">IdP</span><span class="c typ">Active Directory</span><span class="tg"><i></i></span><span class="c act">Active</span><svg class="chk" viewBox="0 0 12 10"><path d="M1 5.200L4.300 8.400L11 1.300" fill="none" stroke="#0aee0a" stroke-width="2.700"/></svg><span class="c en">Enabled</span><svg class="ic pen" viewBox="0 0 24 24" preserveAspectRatio="none"><path d="M1 23l1.6-6.2L16.4 3l4.6 4.6L7.2 21.4z M17.8 1.6l1-1a1.6 1.6 0 0 1 2.2 0l2.4 2.4a1.6 1.6 0 0 1 0 2.2l-1 1z" fill="#1e90ff"/></svg><svg class="ic tr" viewBox="0 0 12.200 13.500"><path d="M3.900 2.400V1.400Q3.900 .55 4.750 .55H7.450Q8.300 .55 8.300 1.400V2.400" fill="none" stroke="#1e90ff" stroke-width="1.100"/><path d="M0 2.150H12.200L11.600 3.550H.6z" fill="#1e90ff"/><path d="M1.500 3.400V11.900Q1.500 12.900 2.500 12.900H9.700Q10.700 12.900 10.700 11.900V3.400" fill="none" stroke="#1e90ff" stroke-width="1.200"/><path d="M3.750 5h.95v6h-.95zM5.950 5h.95v6h-.95zM8.050 5h.95v6h-.95z" fill="#1e90ff"/></svg><span class="btn b1">Test</span><span class="btn b2">View Events</span></div>
<div class="row" style="top:804.93px"><svg class="chev" viewBox="0 0 8 12"><path d="M1.500 1.200L6.300 6L1.500 10.800" fill="none" stroke="#e6e6e6" stroke-width="1.500"/></svg><svg class="cb" viewBox="0 0 15 15"><rect x="0.950" y="0.950" width="11.600" height="11.400" rx="1.200" fill="none" stroke="#8c8c8c" stroke-width="1.700"/></svg><span class="c name">AD-71</span><span class="dot err"></span><span class="c st">Error</span><span class="c msg">Test failed: AD - Bad reque…</span><span class="c ten">hq1u1</span><span class="c cat">IdP</span><span class="c typ">Active Directory</span><span class="tg"><i></i></span><span class="c act">Active</span><svg class="chk" viewBox="0 0 12 10"><path d="M1 5.200L4.300 8.400L11 1.300" fill="none" stroke="#0aee0a" stroke-width="2.700"/></svg><span class="c en">Enabled</span><svg class="ic pen" viewBox="0 0 24 24" preserveAspectRatio="none"><path d="M1 23l1.6-6.2L16.4 3l4.6 4.6L7.2 21.4z M17.8 1.6l1-1a1.6 1.6 0 0 1 2.2 0l2.4 2.4a1.6 1.6 0 0 1 0 2.2l-1 1z" fill="#1e90ff"/></svg><svg class="ic tr" viewBox="0 0 12.200 13.500"><path d="M3.900 2.400V1.400Q3.900 .55 4.750 .55H7.450Q8.300 .55 8.300 1.400V2.400" fill="none" stroke="#1e90ff" stroke-width="1.100"/><path d="M0 2.150H12.200L11.600 3.550H.6z" fill="#1e90ff"/><path d="M1.500 3.400V11.900Q1.500 12.900 2.500 12.900H9.700Q10.700 12.900 10.700 11.900V3.400" fill="none" stroke="#1e90ff" stroke-width="1.200"/><path d="M3.750 5h.95v6h-.95zM5.950 5h.95v6h-.95zM8.050 5h.95v6h-.95z" fill="#1e90ff"/></svg><span class="btn b1">Test</span><span class="btn b2">View Events</span></div>
</div>
</body>
</html>
